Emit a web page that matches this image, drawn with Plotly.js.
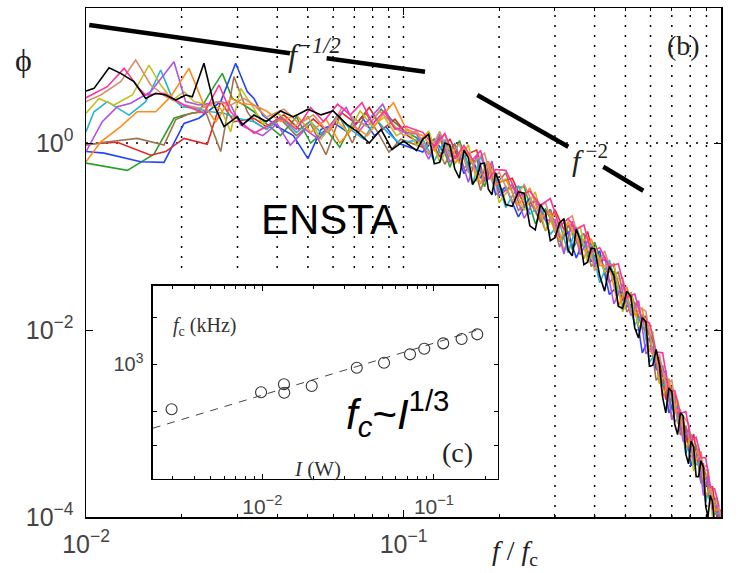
<!DOCTYPE html>
<html><head><meta charset="utf-8">
<script src="https://cdn.plot.ly/plotly-3.0.1.min.js"></script>
<style>html,body{margin:0;padding:0;background:#fff;} #chart{width:739px;height:573px;}</style>
</head><body><div id="chart"></div>
<script>
// ---------- main panel (b): normalised spectra phi vs f/fc ----------
const hiXA = [0.11,0.12,0.13,0.14,0.15,0.16,0.17,0.18,0.19,0.20,0.22,0.24,0.26,0.28,0.30,0.32,0.34,0.36,0.38,0.40,0.43,0.46,0.49,0.52,0.55,0.58,0.61,0.64,0.67,0.70,0.73,0.76,0.79,0.82,0.85,0.88,0.91,0.94,0.97,1.0];
const hiXB = [0.115,0.125,0.135,0.145,0.155,0.165,0.175,0.185,0.195,0.21,0.23,0.25,0.27,0.29,0.31,0.33,0.35,0.37,0.39,0.415,0.445,0.475,0.505,0.535,0.565,0.595,0.625,0.655,0.685,0.715,0.745,0.775,0.805,0.835,0.865,0.895,0.925,0.955,0.985];

const blackLoX = [0.01,0.0106,0.01182,0.01286,0.01416,0.01542,0.01658,0.01782,0.01917,0.0206,0.02162,0.02352,0.0253,0.0272,0.02995,0.03107,0.03381,0.037,0.041,0.045,0.05,0.055,0.06,0.066,0.072,0.078,0.085,0.092,0.1];
const blackLoY = [3.60,3.84,6.39,5.56,4.53,3.00,3.40,3.26,2.88,3.26,3.13,7.12,2.55,1.50,1.91,1.56,1.99,1.7,2.2,1.9,2.3,2.0,2.2,1.6,1.3,1.0,1.4,0.85,1.05];
const blackHiY = [0.83,1.1,1.24,0.60,0.62,1.0,0.95,0.53,0.42,0.84,0.70,0.36,0.42,0.60,0.61,0.32,0.28,0.48,0.38,0.22,0.21,0.30,0.29,0.13,0.118,0.22,0.18,0.09,0.097,0.14,0.155,0.072,0.062,0.12,0.092,0.05,0.053,0.075,0.074,0.038,0.026,0.048,0.038,0.018,0.017,0.026,0.023,0.0105,0.0082,0.0136,0.0122,0.0041,0.0042,0.0062,0.0042,0.0019,0.0013,0.0024,0.0022,0.00098,0.00076,0.0013,0.0012,0.00047,0.00037,0.00065,0.00056,0.00027,0.00027,0.0004,0.00034,0.00013,0.0001,0.00017,0.000147,0.00008,0.000073,0.000077,0.00008];

const pinkLoX = [0.01,0.01167,0.01318,0.01468,0.01542,0.01761,0.02036,0.02352,0.02624,0.02855,0.0307,0.03381,0.037,0.041,0.046,0.051,0.056,0.062,0.068,0.074,0.08,0.087,0.094,0.102];
const pinkLoY = [3.05,4.00,6.29,3.84,3.26,3.40,2.55,2.08,4.17,2.16,1.69,1.27,1.5,1.9,1.4,2.4,1.7,2.6,2.0,2.7,1.6,2.2,1.4,1.5];
const pinkHiY = [1.3,0.92,1.26,0.675,0.94,0.66,0.83,0.41,0.52,0.51,0.27,0.305,0.216,0.255,0.128,0.155,0.118,0.133,0.068,0.076,0.048,0.051,0.0223,0.0243,0.0124,0.012,0.0058,0.0057,0.0022,0.00225,0.00128,0.00134,0.00065,0.00071,0.00043,0.00043,0.00021,0.0002,0.00013];

const tanLoX = [0.01,0.01113,0.01286,0.01434,0.01599,0.01782,0.02036,0.02297,0.02593,0.02855,0.03145,0.03381,0.037,0.042,0.047,0.052,0.058,0.064,0.07,0.077,0.084,0.091,0.1];
const tanLoY = [2.77,3.26,4.53,7.72,4.17,3.13,2.55,2.35,2.77,2.55,3.0,2.55,1.9,2.3,1.6,2.0,1.3,2.4,1.8,1.5,2.2,1.7,1.2];
const tanHiY = [1.35,0.76,1.33,0.71,0.99,0.48,0.67,0.78,0.385,0.49,0.24,0.36,0.197,0.23,0.11,0.143,0.166,0.083,0.098,0.043,0.07,0.0346,0.036,0.0153,0.0178,0.0159,0.0054,0.0054,0.0026,0.0029,0.001,0.0012,0.001,0.00046,0.00054,0.00031,0.00032,0.00013,0.00016,0.0001];

const brownLoX = [0.01,0.0114,0.0145,0.01761,0.01917,0.02137,0.02382,0.02656,0.02925,0.03221,0.03381,0.037,0.041,0.046,0.051,0.057,0.063,0.069,0.076,0.083,0.09,0.098];
const brownLoY = [0.95,1.02,1.12,0.95,1.78,2.08,2.16,0.81,5.12,2.16,1.69,1.4,1.8,1.2,1.6,0.75,1.9,1.0,2.1,1.3,0.8,1.1];
const brownHiY = [0.9,1.1,0.59,0.975,0.54,0.66,0.31,0.55,0.36,0.48,0.19,0.24,0.144,0.195,0.077,0.133,0.088,0.108,0.048,0.059,0.032,0.042,0.0156,0.0194,0.0102,0.0098,0.0029,0.0035,0.0017,0.0021,0.00075,0.00095,0.00053,0.00058,0.00023,0.00029,0.00014,0.00015,0.0001];

const oliveLoX = [0.01,0.01099,0.01225,0.01399,0.01579,0.01719,0.0187,0.02036,0.02189,0.0241,0.02656,0.02855,0.0307,0.03381,0.036,0.04,0.045,0.05,0.055,0.061,0.067,0.073,0.08,0.087,0.095,0.103];
const oliveLoY = [2.08,3.0,2.55,3.26,6.82,4.17,2.88,3.54,2.77,2.55,2.35,1.32,3.84,2.35,1.6,2.1,1.5,1.9,1.1,1.8,1.3,2.2,1.5,1.9,1.2,1.4];
const oliveHiY = [0.94,1.34,0.62,0.95,0.60,0.96,0.39,0.54,0.60,0.23,0.36,0.19,0.30,0.115,0.18,0.071,0.114,0.128,0.053,0.074,0.042,0.052,0.0156,0.025,0.011,0.0112,0.0095,0.0027,0.0034,0.0011,0.0018,0.00073,0.00082,0.00031,0.00051,0.00025,0.0003,0.0001,0.000146,0.00009];

const cyanLoX = [0.01,0.0106,0.01167,0.01366,0.01542,0.01719,0.0187,0.0201,0.02189,0.0247,0.0272,0.02995,0.03381,0.037,0.041,0.046,0.051,0.056,0.062,0.068,0.075,0.082,0.089,0.097];
const cyanLoY = [1.32,2.16,2.77,1.99,2.77,6.04,3.0,2.45,2.35,2.16,2.08,1.84,1.69,1.4,1.9,1.3,1.7,1.2,2.0,1.4,1.1,1.8,1.3,1.0];
const cyanHiY = [1.1,0.64,1.09,0.6,0.8,0.36,0.73,0.41,0.44,0.204,0.35,0.174,0.216,0.105,0.141,0.067,0.127,0.075,0.082,0.032,0.056,0.024,0.0245,0.0113,0.0147,0.0045,0.0058,0.0025,0.003,0.00105,0.00118,0.00047,0.00077,0.00036,0.0004,0.000144,0.000225,0.000107,0.00011];

const purpleLoX = [0.01,0.01125,0.01255,0.01383,0.01599,0.01893,0.0206,0.02269,0.0247,0.02656,0.02855,0.0307,0.03381,0.036,0.04,0.044,0.049,0.054,0.06,0.066,0.072,0.079,0.086,0.093,0.101];
const purpleLoY = [0.81,1.69,2.45,2.66,3.54,7.40,2.77,2.55,2.66,2.77,2.55,1.56,1.32,1.2,1.6,0.95,1.4,1.1,1.7,2.4,1.3,1.9,2.6,1.5,1.3];
const purpleHiY = [1.25,0.67,1.24,0.63,0.78,0.38,0.73,0.39,0.64,0.27,0.36,0.157,0.256,0.148,0.152,0.065,0.146,0.064,0.09,0.05,0.061,0.019,0.031,0.0143,0.0206,0.0056,0.0066,0.0031,0.0037,0.0011,0.0015,0.00064,0.00088,0.00041,0.00047,0.00017,0.00028,0.00012,0.000134,0.00009];

const orangeLoX = [0.01,0.01113,0.01286,0.0145,0.01658,0.01848,0.0211,0.02352,0.02562,0.02855,0.0307,0.03381,0.037,0.041,0.046,0.051,0.057,0.063,0.07,0.077,0.085,0.093,0.102];
const orangeLoY = [0.63,1.03,1.50,2.16,2.16,3.13,6.29,2.55,1.69,3.0,2.66,2.55,2.2,1.7,2.0,1.3,1.8,1.0,1.5,1.2,1.9,2.7,1.4];
const orangeHiY = [1.2,0.83,1.26,0.6,0.87,0.6,0.364,0.64,0.36,0.41,0.216,0.33,0.162,0.18,0.09,0.144,0.098,0.058,0.095,0.049,0.048,0.018,0.029,0.0146,0.017,0.006,0.0053,0.0019,0.003,0.00135,0.0014,0.00055,0.00071,0.0004,0.0005,0.000168,0.00021,0.00012,0.00012];

const redLoX = [0.01,0.01255,0.01599,0.01782,0.02036,0.0241,0.02656,0.02925,0.03381,0.037,0.042,0.047,0.052,0.058,0.064,0.071,0.078,0.086,0.094,0.103];
const redLoY = [0.97,1.02,0.74,0.81,1.12,0.97,2.77,1.69,1.84,1.5,2.0,1.4,1.8,1.3,2.1,1.6,2.4,1.4,1.8,1.2];
const redHiY = [1.04,1.24,0.71,1.11,0.64,0.77,0.84,0.39,0.56,0.38,0.42,0.217,0.236,0.115,0.193,0.119,0.135,0.073,0.113,0.056,0.056,0.048,0.021,0.025,0.0137,0.014,0.0054,0.005,0.0018,0.0025,0.00126,0.0011,0.00054,0.00077,0.00035,0.00037,0.0002,0.00021,0.0001,0.00012];

const blueLoX = [0.01,0.0114,0.01487,0.01761,0.02036,0.02269,0.02656,0.02961,0.03221,0.03381,0.036,0.04,0.045,0.05,0.055,0.061,0.067,0.074,0.081,0.088,0.096];
const blueLoY = [0.81,0.78,0.63,0.62,1.62,1.84,2.77,7.12,3.54,3.0,2.0,1.5,1.2,0.68,1.4,1.6,1.3,1.9,1.2,1.5,1.0];
const blueHiY = [0.8,1.1,0.76,0.975,0.47,0.66,0.42,0.64,0.28,0.34,0.162,0.26,0.144,0.195,0.09,0.111,0.059,0.091,0.054,0.07,0.024,0.03,0.0178,0.0194,0.0057,0.0083,0.0038,0.0041,0.0013,0.0018,0.00086,0.00087,0.00035,0.00058,0.00023,0.00029,0.00014,0.00016,0.0001];

const greenLoX = [0.01,0.0135,0.01637,0.01893,0.02036,0.02269,0.0247,0.02687,0.02889,0.03145,0.03381,0.037,0.041,0.046,0.051,0.057,0.063,0.07,0.077,0.085,0.093,0.102];
const greenLoY = [0.61,0.51,0.76,1.84,1.99,2.16,3.54,5.56,3.0,2.55,2.16,1.6,1.2,1.9,1.0,1.4,0.9,1.8,1.5,2.3,1.7,1.3];
const greenHiY = [1.14,0.76,1.15,0.55,1.06,0.58,0.67,0.34,0.60,0.30,0.33,0.34,0.138,0.197,0.124,0.155,0.073,0.101,0.06,0.087,0.042,0.042,0.018,0.025,0.011,0.0103,0.0077,0.0027,0.0031,0.0014,0.0016,0.00082,0.00082,0.00036,0.00054,0.00023,0.00024,0.000147,0.00016,0.00009];

// power-law guide segments (f^-1/2 and f^-2)
const guideX = [0.01024,0.04389,null,0.05727,0.1169,null,0.1708,0.3304,null,0.4258,0.5691];
const guideY = [18.28,9.11,null,8.05,5.79,null,3.26,0.913,null,0.558,0.309];

// axis ticks / grid
const xTickVals = [0.01,0.1,1];
const xTickText = ['10<sup>−2</sup>','10<sup>−1</sup>','10<sup>0</sup>'];
const yTickVals = [0.0001,0.01,1];
const yTickText = ['10<sup>−4</sup>','10<sup>−2</sup>','10<sup>0</sup>'];
const xMinor = [0.02,0.03,0.04,0.05,0.06,0.07,0.08,0.09,0.2,0.3,0.4,0.5,0.6,0.7,0.8,0.9];
const gridXUpper = [0.02,0.03,0.04,0.05,0.06,0.07,0.08,0.09,0.1,0.2];
const gridXFull = [0.3,0.4,0.5,0.6,0.7,0.8,0.9];

// ---------- inset (c): fc vs I ----------
const insetI = [0.00296,0.00983,0.01337,0.01342,0.0194,0.0355,0.0512,0.0725,0.0878,0.1132,0.1449,0.1787];
const insetFc = [515,662,745,658,726,951,1024,1159,1259,1363,1452,1557];
const fitI = [0.0023,0.19];
const fitFc = [389,1693];
const insetXTickVals = [0.01,0.1];
const insetXTickText = ['10<sup>−2</sup>','10<sup>−1</sup>'];
const insetXMinor = [0.003,0.004,0.005,0.006,0.007,0.008,0.009,0.02,0.03,0.04,0.05,0.06,0.07,0.08,0.09,0.2];
const insetYTickVals = [300,500,1000,2000];
const insetYTickText = ['','','10<sup>3</sup>',''];

const series = [
  {c:'#2ca02c', x:greenLoX.concat(hiXA), y:greenLoY.concat(greenHiY)},
  {c:'#2344ff', x:blueLoX.concat(hiXB), y:blueLoY.concat(blueHiY)},
  {c:'#e02a2a', x:redLoX.concat(hiXA), y:redLoY.concat(redHiY)},
  {c:'#a0724f', x:brownLoX.concat(hiXB), y:brownLoY.concat(brownHiY)},
  {c:'#22b5d0', x:cyanLoX.concat(hiXB), y:cyanLoY.concat(cyanHiY)},
  {c:'#c0c020', x:oliveLoX.concat(hiXA), y:oliveLoY.concat(oliveHiY)},
  {c:'#b34ee6', x:purpleLoX.concat(hiXA), y:purpleLoY.concat(purpleHiY)},
  {c:'#ff8c1a', x:orangeLoX.concat(hiXB), y:orangeLoY.concat(orangeHiY)},
  {c:'#d4906e', x:tanLoX.concat(hiXA), y:tanLoY.concat(tanHiY)},
  {c:'#ff3399', x:pinkLoX.concat(hiXB), y:pinkLoY.concat(pinkHiY)},
  {c:'#000000', x:blackLoX.concat(hiXA.concat(hiXB).sort((a,b)=>a-b)), y:blackLoY.concat(blackHiY)}
];

const traces = series.map(s => ({
  type:'scatter', mode:'lines', x:s.x, y:s.y, xaxis:'x', yaxis:'y',
  line:{color:s.c, width:1.6}, hoverinfo:'skip', showlegend:false
}));
traces.push({type:'scatter', mode:'lines', x:guideX, y:guideY, xaxis:'x', yaxis:'y',
  connectgaps:false, line:{color:'#000', width:4.5}, hoverinfo:'skip', showlegend:false});
traces.push({type:'scatter', mode:'lines', x:fitI, y:fitFc, xaxis:'x2', yaxis:'y2',
  line:{color:'#444', width:1, dash:'8px,7px'}, hoverinfo:'skip', showlegend:false});
traces.push({type:'scatter', mode:'markers', x:insetI, y:insetFc, xaxis:'x2', yaxis:'y2',
  marker:{symbol:'circle-open', size:11, color:'#333', line:{width:1.1, color:'#333'}}, hoverinfo:'skip', showlegend:false});

const shapes = [];
gridXUpper.forEach(v => shapes.push({type:'line', xref:'x', yref:'paper', x0:v, x1:v, y0:0.489, y1:1, layer:'below', line:{color:'#000', width:1.5, dash:'2px,8px'}}));
gridXFull.forEach(v => shapes.push({type:'line', xref:'x', yref:'paper', x0:v, x1:v, y0:0, y1:1, layer:'below', line:{color:'#000', width:1.5, dash:'2px,8px'}}));
shapes.push({type:'line', xref:'paper', yref:'y', x0:0, x1:1, y0:1, y1:1, layer:'below', line:{color:'#000', width:1.5, dash:'2px,8px'}});
shapes.push({type:'line', xref:'x', yref:'y', x0:0.28, x1:1, y0:0.01, y1:0.01, layer:'below', line:{color:'#000', width:1.5, dash:'2px,8px'}});

const serif = 'Liberation Serif, Times New Roman, serif';
const sans = 'Liberation Sans, Arial, sans-serif';
function ann(text, x, y, size, fam, color){
  return {text:text, x:x, y:y, xref:'paper', yref:'paper', showarrow:false, xanchor:'center', yanchor:'middle',
          font:{family:fam, size:size, color:color||'#000'}};
}
const annotations = [
  ann('ϕ', -0.0992, 0.8978, 32, serif, '#222'),
  ann('(b)', 0.9402, 0.9273, 28, serif, '#222'),
  ann('<i>f</i><sup><i>−1/2</i></sup>', 0.3606, 0.912, 32, serif, '#222'),
  ann('<i>f</i><sup> −2</sup>', 0.7937, 0.7053, 30, serif, '#222'),
  ann('ENSTA', 0.3827, 0.5835, 42, sans, '#000'),
  ann('<i>f</i> / <i>f</i><sub>c</sub>', 0.6756, -0.0707, 28, serif, '#222'),
  ann('<i>f</i><sub>c</sub> (kHz)', 0.187, 0.3733, 20, serif, '#333'),
  ann('<i>I</i> (W)', 0.3638, 0.0943, 21, serif, '#333'),
  ann('(c)', 0.5858, 0.1277, 28, serif, '#222'),
  ann('<i>f</i><sub><i>c</i></sub>~<i>I</i><sup>1/3</sup>', 0.4898, 0.2043, 42, sans, '#000')
];

const axBase = {type:'log', showline:true, linecolor:'#000', linewidth:1.5, mirror:'ticks', ticks:'inside',
  tickcolor:'#000', tickwidth:1, showgrid:false, zeroline:false, tickmode:'array'};

const layout = {
  width:739, height:573, margin:{l:86, r:18, t:8, b:56},
  paper_bgcolor:'#fff', plot_bgcolor:'rgba(0,0,0,0)', showlegend:false,
  font:{family:sans, color:'#444'},
  xaxis:Object.assign({}, axBase, {range:[-2,0], tickvals:xTickVals, ticktext:xTickText, ticklen:7,
     tickfont:{size:25, color:'#444'}, ticklabelstandoff:4,
     minor:{tickmode:'array', tickvals:xMinor, ticks:'inside', ticklen:3, tickcolor:'#000', showgrid:false}}),
  yaxis:Object.assign({}, axBase, {range:[-4,1.444], tickvals:yTickVals, ticktext:yTickText, ticklen:7,
     tickfont:{size:25, color:'#444'}, ticklabelstandoff:6}),
  xaxis2:Object.assign({}, axBase, {domain:[0.1055,0.6488], anchor:'y2', range:[-2.637,-0.627],
     tickvals:insetXTickVals, ticktext:insetXTickText, ticklen:5, tickfont:{size:21, color:'#444'}, ticklabelstandoff:8,
     minor:{tickmode:'array', tickvals:insetXMinor, ticks:'inside', ticklen:3, tickcolor:'#000', showgrid:false}}),
  yaxis2:Object.assign({}, axBase, {domain:[0.0747,0.4544], anchor:'x2', range:[2.265,3.504],
     tickvals:insetYTickVals, ticktext:insetYTickText, ticklen:4, tickfont:{size:20, color:'#444'}, ticklabelstandoff:4}),
  shapes:shapes,
  annotations:annotations
};

Plotly.newPlot('chart', traces, layout, {staticPlot:true, displayModeBar:false});
</script>
</body></html>
